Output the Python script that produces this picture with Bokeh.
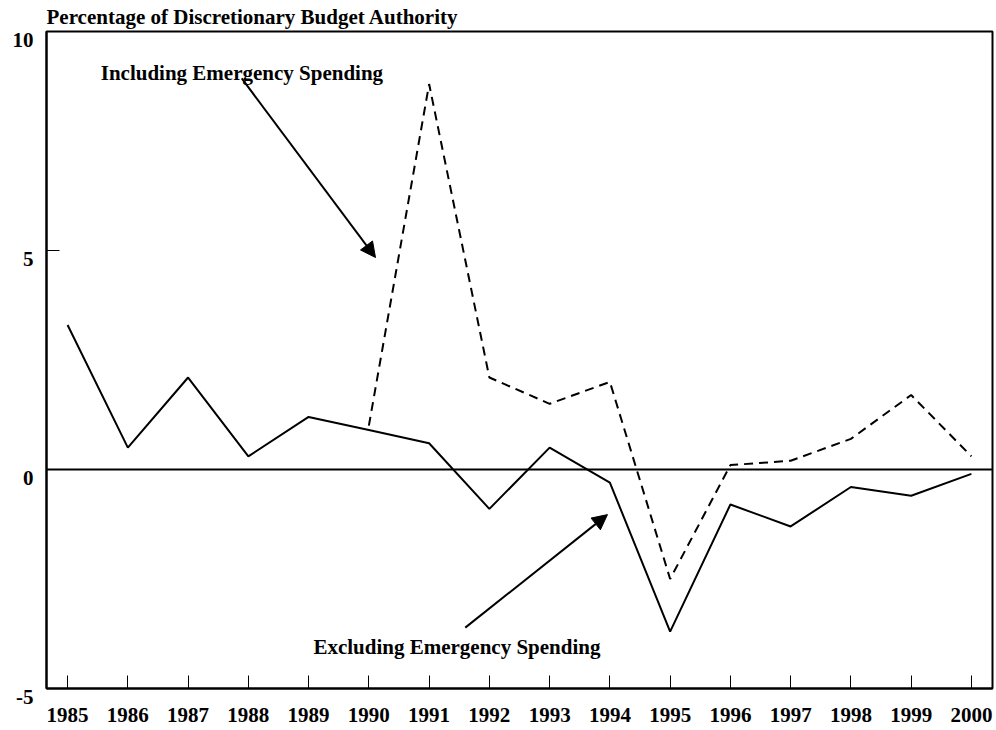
from bokeh.plotting import figure
from bokeh.models import Range1d, FixedTicker, Span, Arrow, NormalHead, Label
from bokeh.embed import file_html
from bokeh.resources import INLINE

years = list(range(1985, 2001))
excluding = [3.3, 0.5, 2.1, 0.3, 1.2, 0.9, 0.6, -0.9, 0.5, -0.3, -3.7, -0.8, -1.3, -0.4, -0.6, -0.1]
incl_years = list(range(1990, 2001))
including = [1.0, 8.8, 2.1, 1.5, 2.0, -2.5, 0.1, 0.2, 0.7, 1.7, 0.3]
y_ticks = [-5, 0, 5, 10]
y_tick_labels = ["-5", "0", "5", "10"]

FONT = "Liberation Serif"
FS = "21px"
X0, X1 = 1984.65, 2000.35
Y0, Y1 = -5, 10

p = figure(width=994, height=728, output_backend="svg", toolbar_location=None,
           x_range=Range1d(X0, X1), y_range=Range1d(Y0, Y1),
           min_border_left=46, min_border_right=2, min_border_top=31, min_border_bottom=40,
           title="Percentage of Discretionary Budget Authority")
p.title.text_font = FONT
p.title.text_font_size = FS
p.title.text_font_style = "bold"
p.title.text_color = "black"
p.title.align = "left"
p.title.offset = 0
p.title.standoff = 5

p.grid.visible = False
p.outline_line_color = "black"
p.outline_line_width = 2
p.outline_line_alpha = 1
p.background_fill_color = "white"
p.border_fill_color = "white"

for ax in (p.xaxis[0], p.yaxis[0]):
    ax.axis_line_width = 2
    ax.axis_line_color = "black"
    ax.major_tick_in = 13
    ax.major_tick_out = 0
    ax.major_tick_line_width = 1
    ax.major_tick_line_color = "black"
    ax.minor_tick_line_color = None
    ax.major_label_text_font = FONT
    ax.major_label_text_font_size = FS
    ax.major_label_text_font_style = "bold"
    ax.major_label_text_color = "black"

p.xaxis.ticker = FixedTicker(ticks=years)
p.xaxis.major_label_standoff = 19

# y labels sit a little below their ticks in the original: a leading empty line
# with a reduced line height nudges each label down by ~7px
p.yaxis.ticker = FixedTicker(ticks=y_ticks)
p.yaxis.major_label_overrides = {t: "\n" + s for t, s in zip(y_ticks, y_tick_labels)}
p.yaxis.major_label_text_line_height = 0.67
p.yaxis.major_label_standoff = 13

p.add_layout(Span(location=0, dimension="width", line_color="black", line_width=2))

p.line(incl_years, including, line_color="black", line_width=2, line_dash="9 6")
p.line(years, excluding, line_color="black", line_width=2)

p.add_layout(Label(x=1985.55, y=9.06, text="Including Emergency Spending",
                   text_font=FONT, text_font_size=FS, text_font_style="bold",
                   text_color="black", text_baseline="alphabetic"))
p.add_layout(Label(x=1989.08, y=-4.06, text="Excluding Emergency Spending",
                   text_font=FONT, text_font_size=FS, text_font_style="bold",
                   text_color="black", text_baseline="alphabetic"))

p.add_layout(Arrow(x_start=1987.89, y_start=8.93, x_end=1990.11, y_end=4.84,
                   line_width=2, line_color="black",
                   end=NormalHead(size=15, fill_color="black", line_color="black")))
p.add_layout(Arrow(x_start=1991.60, y_start=-3.61, x_end=1993.96, y_end=-1.03,
                   line_width=2, line_color="black",
                   end=NormalHead(size=15, fill_color="black", line_color="black")))

open("out.html", "w").write(file_html(p, INLINE))
